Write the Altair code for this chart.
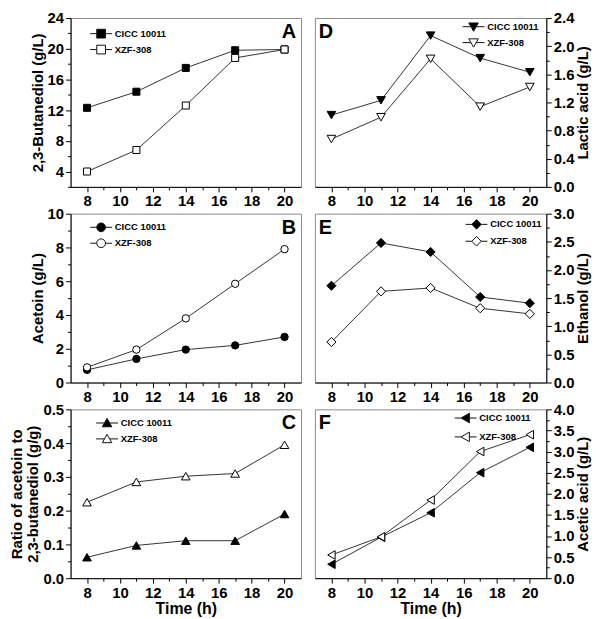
import altair as alt
import pandas as pd

# ---------------- data ----------------
time_h = [8, 11, 14, 17, 20]
series = ["CICC 10011", "XZF-308"]

bdo_cicc = [12.3, 14.4, 17.5, 19.8, 19.9]
bdo_xzf = [4.0, 6.8, 12.6, 18.8, 19.9]

acetoin_cicc = [0.75, 1.4, 1.95, 2.2, 2.7]
acetoin_xzf = [0.9, 1.95, 3.8, 5.85, 7.9]

ratio_cicc = [0.062, 0.097, 0.111, 0.111, 0.19]
ratio_xzf = [0.225, 0.285, 0.302, 0.31, 0.395]

lactic_cicc = [1.02, 1.23, 2.15, 1.83, 1.63]
lactic_xzf = [0.68, 0.99, 1.82, 1.14, 1.42]

ethanol_cicc = [1.72, 2.48, 2.32, 1.52, 1.41]
ethanol_xzf = [0.72, 1.62, 1.68, 1.32, 1.22]

acetic_cicc = [0.33, 0.97, 1.55, 2.5, 3.1]
acetic_xzf = [0.55, 0.98, 1.85, 3.0, 3.4]

FONT = "Liberation Sans"
W_L, W_R, H = 232, 233, 170

# legend symbols: line stub + marker (custom paths)
LP = {
    "square": ["M-2.75,0H-1.1M1.1,0H2.75M-1.1,-1.1H1.1V1.1H-1.1Z"] * 2,
    "circle": ["M-2.75,0H-1.1M1.1,0H2.75M-1.1,0A1.1,1.1,0,1,1,1.1,0A1.1,1.1,0,1,1,-1.1,0Z"] * 2,
    "triangle-up": ["M-2.75,0H-0.66M0.66,0H2.75M0,-1.15L1.2,0.95H-1.2Z"] * 2,
    "triangle-down": ["M-2.75,0H-0.66M0.66,0H2.75M0,1.15L1.2,-0.95H-1.2Z"] * 2,
    "diamond": ["M-2.75,0H-1.2M1.2,0H2.75M-1.2,0L0,-1.2L1.2,0L0,1.2Z"] * 2,
    "triangle-left": ["M-2.75,0H-1.15M0.95,0H2.75M-1.15,0L0.95,-1.2V1.2Z"] * 2,
}


def ticks(lo, hi, step):
    n = int(round((hi - lo) / step))
    return [round(lo + i * step, 4) for i in range(n + 1)]


def panel(cicc, xzf, letter, ytitle, ydom, major, yfmt, side, shape, msize,
          legx, legy, rowpad, bottom, width):
    df = pd.DataFrame({
        "t": time_h + time_h,
        "v": cicc + xzf,
        "series": [series[0]] * 5 + [series[1]] * 5,
    })
    xaxis = alt.Axis(
        values=list(range(8, 21)),
        labelExpr="datum.value % 2 == 0 ? datum.label : ''",
        tickSize={"condition": {"test": "datum.value % 2 != 0", "value": 3}, "value": 5},
        title="Time (h)" if bottom else None,
        titleFontSize=16,
        titlePadding=1,
        labelOverlap=False,
        labelFlush=False,
    )
    minor = major / 2.0
    test_minor = f"abs(datum.value / {major} - round(datum.value / {major})) > 0.01"
    yaxis = alt.Axis(
        orient=side,
        values=ticks(ydom[0], ydom[1], minor),
        format=yfmt,
        labelExpr=f"{test_minor} ? '' : datum.label",
        tickSize={"condition": {"test": test_minor, "value": 3}, "value": 5},
        title=ytitle,
        titleAngle=270,
        titleBaseline="bottom" if side == "left" else "top",
        titlePadding=2,
        labelOverlap=False,
        labelFlush=False,
    )
    base = alt.Chart(df).encode(
        x=alt.X("t:Q", scale=alt.Scale(domain=[7, 21], nice=False, zero=False), axis=xaxis),
        y=alt.Y("v:Q", scale=alt.Scale(domain=ydom, nice=False, zero=False), axis=yaxis),
    )
    line = base.mark_line(color="#333333", strokeWidth=1).encode(detail="series:N")
    pts = base.mark_point(filled=False, stroke="black", strokeWidth=1, opacity=1, size=msize).encode(
        shape=alt.Shape("series:N", scale=alt.Scale(domain=series, range=[shape, shape]), legend=None),
        fill=alt.Fill("series:N", scale=alt.Scale(domain=series, range=["black", "white"]), legend=None),
    )
    lg = alt.Legend(
        title=None, orient="none", legendX=legx, legendY=legy,
        labelFont=FONT, labelFontSize=9.5, labelFontWeight="bold", labelColor="black",
        symbolSize=64, symbolOpacity=1, symbolStrokeWidth=1,
        labelOffset=9, rowPadding=rowpad, padding=0,
    )
    leg = base.mark_point(filled=False, strokeWidth=1, opacity=0, size=64).encode(
        shape=alt.Shape("series:N", scale=alt.Scale(domain=series, range=LP[shape]), legend=lg),
        fill=alt.Fill("series:N", scale=alt.Scale(domain=series, range=["black", "white"]), legend=lg),
        stroke=alt.Stroke("series:N", scale=alt.Scale(domain=series, range=["#111111", "#111111"]), legend=lg),
    )
    if side == "left":
        tx, al = width - 5, "right"
    else:
        tx, al = 4, "left"
    txt = alt.Chart(pd.DataFrame({"label": [letter]})).mark_text(
        font=FONT, fontSize=20, fontWeight="bold", align=al, baseline="alphabetic", color="black"
    ).encode(text="label:N", x=alt.value(tx), y=alt.value(20))
    return alt.layer(line, pts, leg, txt).resolve_scale(
        shape="independent", fill="independent", stroke="independent"
    ).properties(width=width, height=H)


pA = panel(bdo_cicc, bdo_xzf, "A", "2,3-Butanediol (g/L)", [2, 24], 4, "d", "left",
           "square", 50, 26, 11, 2, False, W_L)
pB = panel(acetoin_cicc, acetoin_xzf, "B", "Acetoin (g/L)", [0, 10], 2, "d", "left",
           "circle", 55, 26, 9, 2, False, W_L)
pC = panel(ratio_cicc, ratio_xzf, "C", ["Ratio of acetoin to", "2,3-butanediol  (g/g)"], [0, 0.5], 0.1,
           ".1f", "left", "triangle-up", 75, 32, 9, 3, True, W_L)
pD = panel(lactic_cicc, lactic_xzf, "D", "Lactic acid (g/L)", [0, 2.4], 0.4, ".1f", "right",
           "triangle-down", 75, 155, 4, 2, False, W_R)
pE = panel(ethanol_cicc, ethanol_xzf, "E", "Ethanol (g/L)", [0, 3], 0.5, ".1f", "right",
           "diamond", 85, 158, 6, 2, False, W_R)
pF = panel(acetic_cicc, acetic_xzf, "F", "Acetic acid (g/L)", [0, 4], 0.5, ".1f", "right",
           "triangle-left", 75, 147, 4, 4, True, W_R)

left = alt.vconcat(pA, pB, pC, spacing=27, bounds="flush")
right = alt.vconcat(pD, pE, pF, spacing=27, bounds="flush")

chart = alt.hconcat(left, right, spacing=12).properties(
    padding={"left": 0, "top": 0, "right": 0, "bottom": 0}
).configure_view(
    stroke="#8a8a8a", strokeWidth=1
).configure_axis(
    grid=False,
    domainColor="black", domainWidth=1,
    tickColor="black", tickWidth=1,
    labelFont=FONT, labelFontSize=15, labelFontWeight="bold", labelColor="black", labelPadding=2,
    titleFont=FONT, titleFontSize=15, titleFontWeight="bold", titleColor="black",
)

chart.save("out.html", embed_options={"renderer": "svg", "actions": False})
